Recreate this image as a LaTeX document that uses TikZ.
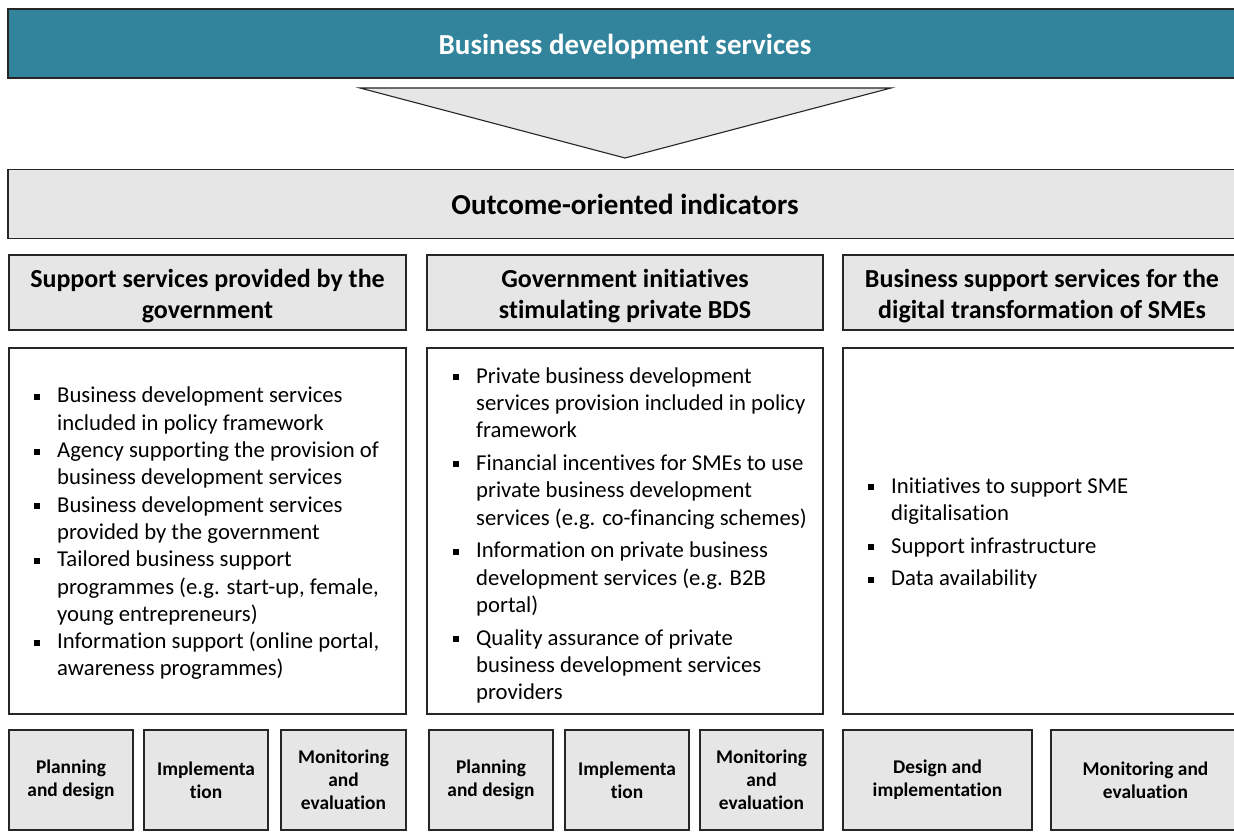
\documentclass[tikz,border=0pt]{standalone}
\usepackage{fontspec}
\setmainfont{Carlito}[RawFeature={-liga}]
\definecolor{bannerteal}{RGB}{49,132,155}
\definecolor{boxgray}{RGB}{230,230,230}
\definecolor{edgegray}{RGB}{38,38,38}
\newcommand\bul{\raisebox{3pt}{\rule{6pt}{6pt}}}
\begin{document}
\begin{tikzpicture}[x=1pt,y=-1pt,
  box/.style={draw=edgegray, line width=1.3pt, fill=boxgray, rectangle, inner sep=0pt},
  banner/.style={box, fill=bannerteal},
  bannertext/.style={text=white, inner sep=0pt, yshift=-3pt, font=\fontsize{29}{34}\selectfont\bfseries},
  outcome/.style={box, font=\fontsize{29}{34}\selectfont\bfseries},
  hdrtext/.style={inner sep=0pt, align=center, yshift=-3.5pt, font=\fontsize{26}{31}\selectfont\bfseries},
  contentbox/.style={box, fill=white},
  bottombox/.style={box, align=center, font=\fontsize{19.4}{23.2}\selectfont\bfseries},
  bullets/.style={anchor=west, inner sep=0pt, align=left, font=\fontsize{22.7}{27.3}\selectfont},
  arrowshape/.style={draw=edgegray, line width=1.1pt, fill=boxgray}
]
\useasboundingbox (0,0) rectangle (1234,832);
\clip (0,0) rectangle (1234,832);

\node[banner, minimum width=1234pt, minimum height=69pt,
  label={[bannertext]center:Business development services}] (title) at (625,43.5) {};
\draw[arrowshape] (360,88) -- (891,88) -- (625,158) -- cycle;
\node[outcome, minimum width=1234pt, minimum height=69pt] (outc) at (625,204) {Outcome-oriented indicators};

\node[box, minimum width=397pt, minimum height=75pt,
  label={[hdrtext]center:Support services provided by the\\government}] (h1) at (207.5,292.5) {};
\node[box, minimum width=396pt, minimum height=75pt,
  label={[hdrtext]center:Government initiatives\\stimulating private BDS}] (h2) at (625,292.5) {};
\node[box, minimum width=398pt, minimum height=75pt,
  label={[hdrtext]center:Business support services for the\\digital transformation of SMEs}] (h3) at (1042,292.5) {};

\node[contentbox, minimum width=397pt, minimum height=366pt] (c1) at (207.5,531) {};
\node[contentbox, minimum width=396pt, minimum height=366pt] (c2) at (625,531) {};
\node[contentbox, minimum width=398pt, minimum height=366pt] (c3) at (1042,531) {};

\node[bullets] (t1) at (34,534) {\begin{tabular}{@{}p{23pt}@{}l@{}}
\bul & Business development services\\
 & included in policy framework\\
\bul & Agency supporting the provision of\\
 & business development services\\
\bul & Business development services\\
 & provided by the government\\
\bul & Tailored business support\\
 & programmes (e.g. start-up, female,\\
 & young entrepreneurs)\\
\bul & Information support (online portal,\\
 & awareness programmes)
\end{tabular}};

\node[bullets] (t2) at (453,536) {\begin{tabular}{@{}p{23pt}@{}l@{}}
\bul & Private business development\\
 & services provision included in policy\\
 & framework\\[5.5pt]
\bul & Financial incentives for SMEs to use\\
 & private business development\\
 & services (e.g. co-financing schemes)\\[5.5pt]
\bul & Information on private business\\
 & development services (e.g. B2B\\
 & portal)\\[5.5pt]
\bul & Quality assurance of private\\
 & business development services\\
 & providers
\end{tabular}};

\node[bullets] (t3) at (868,534) {\begin{tabular}{@{}p{23pt}@{}l@{}}
\bul & Initiatives to support SME\\
 & digitalisation\\[5.5pt]
\bul & Support infrastructure\\[5.5pt]
\bul & Data availability
\end{tabular}};

\node[bottombox, minimum width=124pt, minimum height=100pt] (b11) at (71,780) {Planning\\and design};
\node[bottombox, minimum width=124pt, minimum height=100pt] (b12) at (206,780) {Implementa\\tion};
\node[bottombox, minimum width=125pt, minimum height=100pt] (b13) at (343.5,780) {Monitoring\\and\\evaluation};

\node[bottombox, minimum width=124pt, minimum height=100pt] (b21) at (491,780) {Planning\\and design};
\node[bottombox, minimum width=124pt, minimum height=100pt] (b22) at (627,780) {Implementa\\tion};
\node[bottombox, minimum width=123pt, minimum height=100pt] (b23) at (761.5,780) {Monitoring\\and\\evaluation};

\node[bottombox, minimum width=189pt, minimum height=100pt] (b31) at (937.5,780) {Design and\\implementation};
\node[bottombox, minimum width=189pt, minimum height=100pt] (b32) at (1145.5,780) {Monitoring and\\evaluation};
\end{tikzpicture}
\end{document}
